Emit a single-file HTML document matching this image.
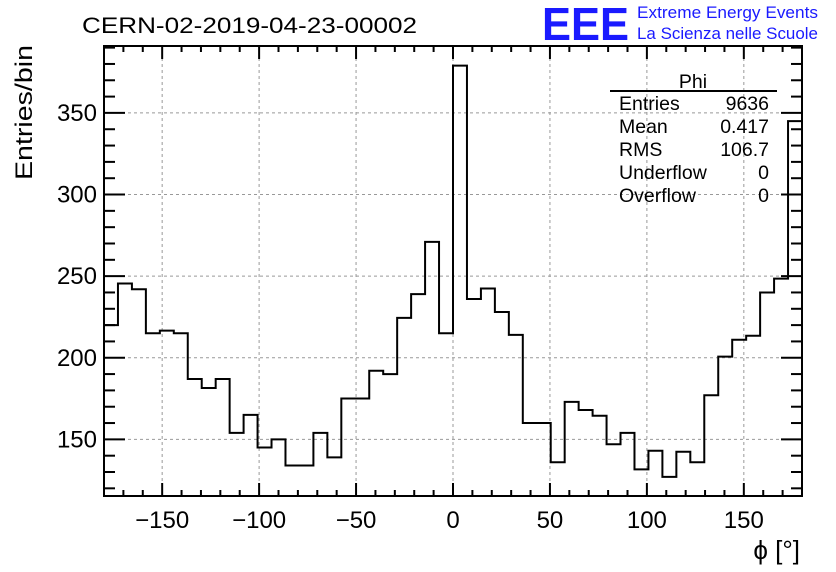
<!DOCTYPE html>
<html><head><meta charset="utf-8"><style>
body{margin:0;background:#fff;}
svg{display:block;font-family:"Liberation Sans",sans-serif;}
</style></head><body>
<svg id="chart" width="836" height="572" xmlns="http://www.w3.org/2000/svg">
<rect width="836" height="572" fill="#fff"/>
<g id="grid"></g>
<path id="hist" fill="none" stroke="#000" stroke-width="2"/>
<g id="axes"></g>
<text x="82" y="33" font-size="22" textLength="335" lengthAdjust="spacingAndGlyphs">CERN-02-2019-04-23-00002</text>
<text x="542" y="40" font-size="46" font-weight="bold" fill="#1a1aff" textLength="87" lengthAdjust="spacingAndGlyphs">EEE</text>
<text x="637" y="18" font-size="17" fill="#1a1aff" textLength="181" lengthAdjust="spacingAndGlyphs">Extreme Energy Events</text>
<text x="637" y="39" font-size="17" fill="#1a1aff" textLength="181" lengthAdjust="spacingAndGlyphs">La Scienza nelle Scuole</text>
<g font-size="19.5">
<text x="693" y="88" text-anchor="middle">Phi</text>
<line x1="610" y1="91" x2="777" y2="91" stroke="#000" stroke-width="2"/>
<text x="619" y="110">Entries</text><text x="769" y="110" text-anchor="end">9636</text>
<text x="619" y="133">Mean</text><text x="769" y="133" text-anchor="end">0.417</text>
<text x="619" y="156">RMS</text><text x="769" y="156" text-anchor="end">106.7</text>
<text x="619" y="179">Underflow</text><text x="769" y="179" text-anchor="end">0</text>
<text x="619" y="202">Overflow</text><text x="769" y="202" text-anchor="end">0</text>
</g>
<text transform="translate(32,45) rotate(-90)" text-anchor="end" font-size="24" textLength="135" lengthAdjust="spacingAndGlyphs">Entries/bin</text>
<text x="800" y="559" text-anchor="end" font-size="26">ϕ [°]</text>
</svg>
<script>
const counts=[220,245.5,242,215,216.6,215,187,181.5,187,154,165,145,150,134,134,154,139,175,175,192,190,224.4,239,271,215,
379,236,242.4,228,214,160,160,136,173,168,164.5,147,154,131.6,143,127,142.4,136,177,200.7,211,213.5,240,248.5,345];
const xMin=-180,xMax=180,yMin=115.3,yMax=391;
const xTicks=[-150,-100,-50,0,50,100,150];
const yTicks=[150,200,250,300,350];
const L=104,R=802,T=46,B=496;
const sx=v=>L+(v-xMin)/(xMax-xMin)*(R-L);
const sy=v=>B-(v-yMin)/(yMax-yMin)*(B-T);
const NS="http://www.w3.org/2000/svg";
function mk(tag,attrs,parent){const e=document.createElementNS(NS,tag);for(const k in attrs)e.setAttribute(k,attrs[k]);parent.appendChild(e);return e;}
const grid=document.getElementById('grid'),axes=document.getElementById('axes');
xTicks.forEach(t=>{const g=mk('line',{x1:sx(t),x2:sx(t),y1:T,y2:B,stroke:'#999','stroke-dasharray':'3,3'},grid);

});
yTicks.forEach(t=>{const g=mk('line',{x1:L,x2:R,y1:sy(t),y2:sy(t),stroke:'#999','stroke-dasharray':'3,3'},grid);

});
const n=counts.length,w=(xMax-xMin)/n;
let d='M'+sx(xMin)+','+sy(counts[0]);
counts.forEach((c,i)=>{d+=' L'+sx(xMin+i*w)+','+sy(c)+' L'+sx(xMin+(i+1)*w)+','+sy(c);});
document.getElementById('hist').setAttribute('d',d);
mk('rect',{x:L,y:T,width:R-L,height:B-T,fill:'none',stroke:'#000','stroke-width':2},axes);
for(let v=-180;v<=180;v+=10){const maj=v%50===0;const len=maj?13:6;
mk('line',{x1:sx(v),x2:sx(v),y1:B,y2:B-len,stroke:'#000','stroke-width':2},axes);
mk('line',{x1:sx(v),x2:sx(v),y1:T,y2:T+len,stroke:'#000','stroke-width':2},axes);}
xTicks.forEach(t=>{const e=mk('text',{x:sx(t),y:528,'text-anchor':'middle','font-size':24},axes);e.textContent=(t<0?'\u2212'+(-t):t);

});
for(let v=120;v<=390;v+=10){const maj=v%50===0;const len=maj?21:11;
mk('line',{x1:L,x2:L+len,y1:sy(v),y2:sy(v),stroke:'#000','stroke-width':2},axes);
mk('line',{x1:R,x2:R-len,y1:sy(v),y2:sy(v),stroke:'#000','stroke-width':2},axes);}
yTicks.forEach(t=>{const e=mk('text',{x:97,y:sy(t)+8,'text-anchor':'end','font-size':24},axes);e.textContent=t;

});
</script>
</body></html>
